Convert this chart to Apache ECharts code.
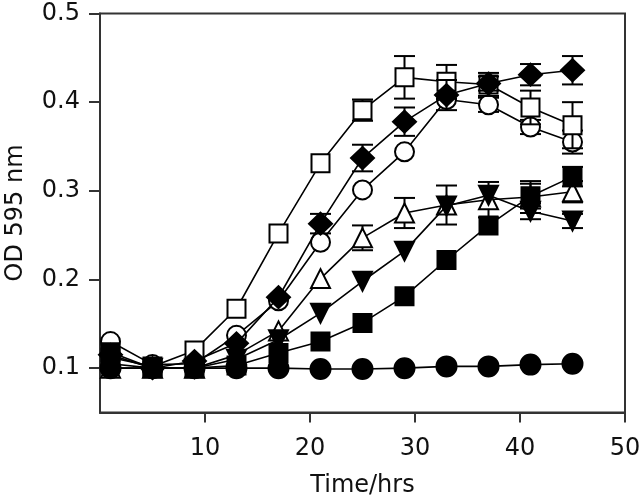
<!DOCTYPE html>
<html>
<head>
<meta charset="utf-8">
<script src="https://cdn.jsdelivr.net/npm/echarts@6/dist/echarts.min.js"></script>
<style>html,body{margin:0;padding:0;background:#fff;}#chart{width:643px;height:499px;}</style>
</head>
<body>
<div id="chart"></div>
<script>
// ---- data ----
const times = [1, 5, 9, 13, 17, 21, 25, 29, 33, 37, 41, 45];

const openCircle    = [0.130, 0.104, 0.105, 0.137, 0.176, 0.242, 0.301, 0.344, 0.403, 0.397, 0.372, 0.355];
const openCircleErr = [0, 0, 0, 0, 0, 0, 0, 0, 0, 0.008, 0.008, 0.013];

const openSquare    = [0.112, 0.102, 0.120, 0.167, 0.252, 0.331, 0.391, 0.428, 0.423, 0.420, 0.394, 0.374];
const openSquareErr = [0, 0, 0, 0, 0, 0, 0.012, 0.024, 0.019, 0.013, 0.019, 0.026];

const openTriangle    = [0.100, 0.100, 0.100, 0.115, 0.142, 0.201, 0.247, 0.275, 0.284, 0.290, 0.293, 0.299];
const openTriangleErr = [0, 0, 0, 0, 0, 0, 0.014, 0.017, 0.022, 0.020, 0.018, 0.012];

const filledDiamond    = [0.115, 0.100, 0.108, 0.128, 0.180, 0.263, 0.337, 0.378, 0.408, 0.421, 0.431, 0.436];
const filledDiamondErr = [0, 0, 0, 0, 0, 0.011, 0.015, 0.016, 0.017, 0.008, 0.012, 0.016];

const filledTriDown    = [0.105, 0.100, 0.100, 0.110, 0.132, 0.162, 0.198, 0.232, 0.283, 0.295, 0.277, 0.266];
const filledTriDownErr = [0, 0, 0, 0, 0, 0, 0, 0, 0, 0, 0.009, 0.008];

const filledSquare    = [0.118, 0.100, 0.100, 0.103, 0.117, 0.130, 0.151, 0.181, 0.222, 0.261, 0.294, 0.316];
const filledSquareErr = [0, 0, 0, 0, 0, 0, 0, 0, 0, 0, 0.014, 0.011];

const filledCircle    = [0.100, 0.100, 0.100, 0.100, 0.100, 0.099, 0.099, 0.100, 0.102, 0.102, 0.104, 0.105];
const filledCircleErr = [0, 0, 0, 0, 0, 0, 0, 0, 0, 0, 0, 0];

const xTicks = [10, 20, 30, 40, 50];
const yTicks = [0.1, 0.2, 0.3, 0.4, 0.5];

// ---- chart ----
const FONT = 'DejaVu Sans';
const groups = [
  {vals: openCircle,    err: openCircleErr,    symbol: 'circle',   size: 19, fill: '#fff', rot: 0},
  {vals: openSquare,    err: openSquareErr,    symbol: 'rect',     size: 18, fill: '#fff', rot: 0},
  {vals: openTriangle,  err: openTriangleErr,  symbol: 'triangle', size: 19, fill: '#fff', rot: 0},
  {vals: filledDiamond, err: filledDiamondErr, symbol: 'diamond',  size: [23, 22], fill: '#000', rot: 0},
  {vals: filledTriDown, err: filledTriDownErr, symbol: 'triangle', size: 19, fill: '#000', rot: 180},
  {vals: filledSquare,  err: filledSquareErr,  symbol: 'rect',     size: 18, fill: '#000', rot: 0},
  {vals: filledCircle,  err: filledCircleErr,  symbol: 'circle',   size: 20, fill: '#000', rot: 0}
];

function errRender(params, api) {
  const x = api.value(0), y = api.value(1), e = api.value(2);
  const top = api.coord([x, y + e]);
  const bot = api.coord([x, y - e]);
  const hw = 10.5;
  const st = {stroke: '#000', lineWidth: 2};
  return {
    type: 'group',
    children: [
      {type: 'line', shape: {x1: top[0], y1: top[1], x2: bot[0], y2: bot[1]}, style: st},
      {type: 'line', shape: {x1: top[0] - hw, y1: top[1], x2: top[0] + hw, y2: top[1]}, style: st},
      {type: 'line', shape: {x1: bot[0] - hw, y1: bot[1], x2: bot[0] + hw, y2: bot[1]}, style: st}
    ]
  };
}

const series = [];
groups.forEach((g, k) => {
  const errData = [];
  times.forEach((t, i) => { if (g.err[i] > 0) errData.push([t, g.vals[i], g.err[i]]); });
  series.push({
    type: 'custom',
    renderItem: errRender,
    data: errData,
    z: 2 + k * 2,
    silent: true,
    clip: false
  });
  series.push({
    type: 'line',
    data: times.map((t, i) => [t, g.vals[i]]),
    symbol: g.symbol,
    symbolSize: g.size,
    symbolRotate: g.rot,
    showAllSymbol: true,
    lineStyle: {color: '#000', width: 1.6},
    itemStyle: {color: g.fill, borderColor: '#000', borderWidth: 2},
    z: 3 + k * 2,
    animation: false,
    silent: true
  });
});

const chart = echarts.init(document.getElementById('chart'), null, {renderer: 'canvas'});
chart.setOption({
  animation: false,
  backgroundColor: '#fff',
  grid: {left: 100, right: 18, top: 13.5, bottom: 86.5, outerBoundsMode: 'none', containLabel: false,
    show: true, borderColor: '#333', borderWidth: 2, backgroundColor: 'transparent'},
  xAxis: {
    type: 'value', min: 0, max: 50, interval: 10,
    name: 'Time/hrs', nameLocation: 'middle', nameGap: 61,
    nameTextStyle: {fontFamily: FONT, fontSize: 24, color: '#111'},
    axisLine: {show: true, lineStyle: {color: '#333', width: 2}},
    axisTick: {show: true, length: 10, inside: false, customValues: xTicks, lineStyle: {color: '#333', width: 2}},
    axisLabel: {customValues: xTicks, margin: 24, fontFamily: FONT, fontSize: 24, color: '#111'},
    splitLine: {show: false}
  },
  yAxis: {
    type: 'value', min: 0.05, max: 0.5,
    name: 'OD 595 nm', nameLocation: 'middle', nameGap: 72, nameRotate: 90,
    nameTextStyle: {fontFamily: FONT, fontSize: 24, color: '#111'},
    axisLine: {show: true, lineStyle: {color: '#333', width: 2}},
    axisTick: {show: true, length: 11, inside: false, customValues: yTicks, lineStyle: {color: '#333', width: 2}},
    axisLabel: {customValues: yTicks, margin: 20, fontFamily: FONT, fontSize: 24, color: '#111',
      formatter: v => v.toFixed(1)},
    splitLine: {show: false}
  },
  series: series
});
</script>
</body>
</html>
